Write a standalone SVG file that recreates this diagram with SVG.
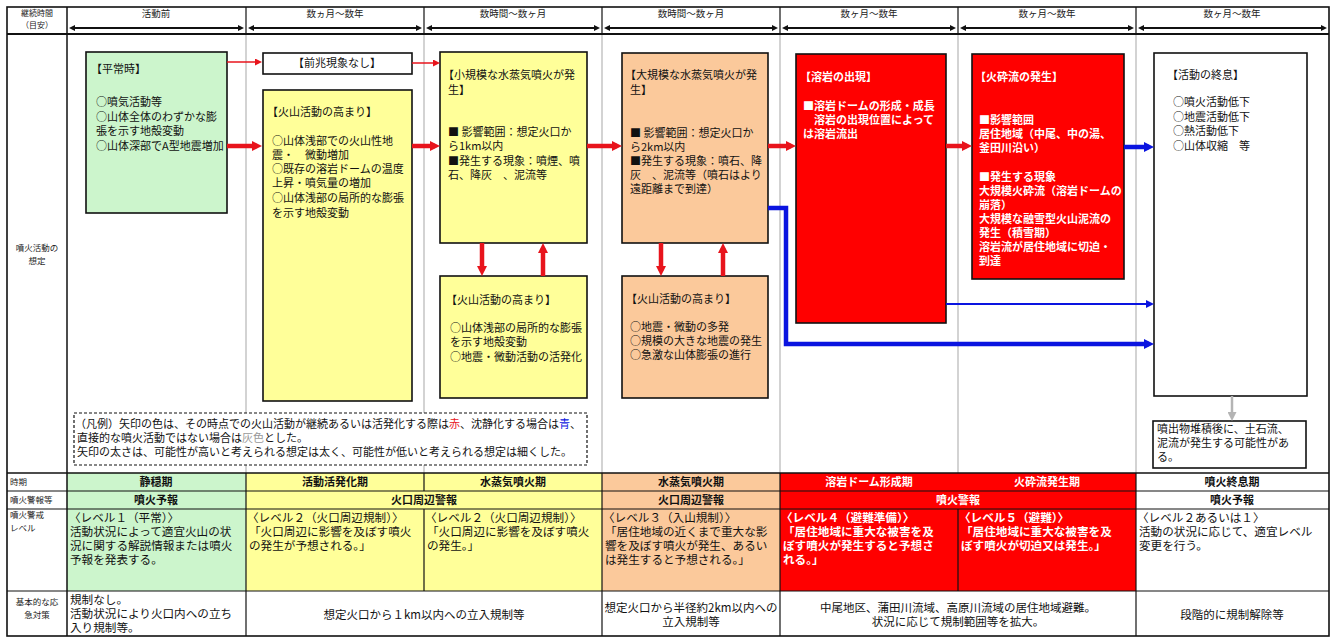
<svg xmlns="http://www.w3.org/2000/svg" width="1336" height="640" viewBox="0 0 1336 640">
<style>
text{font-family:"Noto Sans CJK JP","Noto Sans CJK SC",sans-serif;fill:#111;font-size:11px}
.w{fill:#fff;font-weight:bold}
.b{font-weight:bold}
.lbl{font-size:8.5px;fill:#222}
.hd{font-size:9.5px;fill:#222}
.c{text-anchor:middle}
.lv{font-size:11.6px}
.box{stroke:#111;stroke-width:1.6}
.grn{fill:#ccf5cc}.yel{fill:#ffff99}.pch{fill:#fbc99b}.red{fill:#ff0000}.wht{fill:#fff}
.gl{stroke:#c4c4c4;stroke-width:1.5}
.bl{stroke:#111;stroke-width:1.2}
</style>
<defs>
<marker id="mRt" markerUnits="userSpaceOnUse" markerWidth="10" markerHeight="10" refX="5" refY="5" orient="auto"><path d="M0,0L10,5L0,10z" fill="#e8141c"/></marker>
<marker id="mRn" markerUnits="userSpaceOnUse" markerWidth="7" markerHeight="7" refX="5" refY="3.5" orient="auto"><path d="M0,0L7,3.5L0,7z" fill="#e8141c"/></marker>
<marker id="mBt" markerUnits="userSpaceOnUse" markerWidth="10" markerHeight="10" refX="5" refY="5" orient="auto"><path d="M0,0L10,5L0,10z" fill="#0a14e0"/></marker>
<marker id="mBn" markerUnits="userSpaceOnUse" markerWidth="8" markerHeight="8" refX="5" refY="4" orient="auto"><path d="M0,0L8,4L0,8z" fill="#0a14e0"/></marker>
<marker id="mG" markerUnits="userSpaceOnUse" markerWidth="9" markerHeight="9" refX="5" refY="4.5" orient="auto"><path d="M0,0L9,4.5L0,9z" fill="#b4b4b4"/></marker>
<marker id="mK" markerUnits="userSpaceOnUse" markerWidth="6" markerHeight="6" refX="4" refY="3" orient="auto-start-reverse"><path d="M0,0L6,3L0,6z" fill="#111"/></marker>
</defs>
<rect x="0" y="0" width="1336" height="640" fill="#fff"/>

<g id="table">
<rect x="67" y="473" width="179" height="118" class="grn"/>
<rect x="246" y="473" width="356" height="118" class="yel"/>
<rect x="602" y="473" width="178" height="118" class="pch"/>
<rect x="780" y="473" width="356" height="118" class="red"/>
<g class="gl">
<line x1="246" y1="34" x2="246" y2="473"/><line x1="424" y1="34" x2="424" y2="473"/>
<line x1="602" y1="34" x2="602" y2="473"/><line x1="780" y1="34" x2="780" y2="473"/>
<line x1="958" y1="34" x2="958" y2="473"/><line x1="1136" y1="34" x2="1136" y2="473"/>
</g>
<g class="bl">
<line x1="246" y1="7" x2="246" y2="34"/><line x1="424" y1="7" x2="424" y2="34"/>
<line x1="602" y1="7" x2="602" y2="34"/><line x1="780" y1="7" x2="780" y2="34"/>
<line x1="958" y1="7" x2="958" y2="34"/><line x1="1136" y1="7" x2="1136" y2="34"/>
<line x1="7" y1="491" x2="1329" y2="491"/><line x1="7" y1="509" x2="1329" y2="509"/>
<line x1="7" y1="591" x2="1329" y2="591"/>
<line x1="246" y1="473" x2="246" y2="636"/>
<line x1="424" y1="473" x2="424" y2="491"/><line x1="424" y1="509" x2="424" y2="591"/>
<line x1="602" y1="473" x2="602" y2="636"/><line x1="780" y1="473" x2="780" y2="636"/>
<line x1="958" y1="509" x2="958" y2="591"/>
<line x1="1136" y1="473" x2="1136" y2="636"/>
</g>
<line x1="7" y1="34" x2="1329" y2="34" stroke="#111" stroke-width="2.2"/>
<line x1="7" y1="473" x2="1329" y2="473" stroke="#111" stroke-width="1.6"/>
<line x1="67" y1="7" x2="67" y2="636" stroke="#111" stroke-width="1.5"/>
<rect x="7" y="7" width="1322" height="629" fill="none" stroke="#111" stroke-width="1.6"/>

<text class="lbl c" style="font-size:8px" x="37" y="16">継続時間</text>
<text class="lbl c" style="font-size:8px" x="37" y="28">（目安）</text>
<text class="hd c" x="156" y="17">活動前</text>
<text class="hd c" x="335" y="17">数ヵ月～数年</text>
<text class="hd c" x="513" y="17">数時間～数ヶ月</text>
<text class="hd c" x="691" y="17">数時間～数ヶ月</text>
<text class="hd c" x="869" y="17">数ヶ月～数年</text>
<text class="hd c" x="1047" y="17">数ヶ月～数年</text>
<text class="hd c" x="1232" y="17">数ヶ月～数年</text>
<g stroke="#111" stroke-width="1.8" marker-start="url(#mK)" marker-end="url(#mK)">
<line x1="71" y1="28" x2="242" y2="28"/><line x1="250" y1="28" x2="420" y2="28"/>
<line x1="428" y1="28" x2="598" y2="28"/><line x1="606" y1="28" x2="776" y2="28"/>
<line x1="784" y1="28" x2="954" y2="28"/><line x1="962" y1="28" x2="1132" y2="28"/>
<line x1="1140" y1="28" x2="1325" y2="28"/>
</g>
<text class="lbl c" x="37" y="251">噴火活動の</text>
<text class="lbl c" x="37" y="264">想定</text>

<text class="lbl" x="10" y="485">時期</text>
<text class="lbl" x="10" y="503">噴火警報等</text>
<text class="lbl" x="10" y="518">噴火警戒</text>
<text class="lbl" x="10" y="531">レベル</text>
<text class="lbl c" x="37" y="605">基本的な応</text>
<text class="lbl c" x="37" y="618">急対策</text>

<text class="b c" x="156" y="486">静穏期</text>
<text class="b c" x="335" y="486">活動活発化期</text>
<text class="b c" x="513" y="486">水蒸気噴火期</text>
<text class="b c" x="691" y="486">水蒸気噴火期</text>
<text class="w c" x="869" y="486">溶岩ドーム形成期</text>
<text class="w c" x="1047" y="486">火砕流発生期</text>
<text class="b c" x="1232" y="486">噴火終息期</text>
<text class="b c" x="156" y="504">噴火予報</text>
<text class="b c" x="424" y="504">火口周辺警報</text>
<text class="b c" x="691" y="504">火口周辺警報</text>
<text class="w c" x="958" y="504">噴火警報</text>
<text class="b c" x="1232" y="504">噴火予報</text>
<text class="lv" x="69" y="522">〈レベル１（平常）〉</text>
<text class="lv" x="70" y="536">活動状況によって適宜火山の状</text>
<text class="lv" x="70" y="550">況に関する解説情報または噴火</text>
<text class="lv" x="70" y="564">予報を発表する。</text>
<text class="lv" x="247" y="522">〈レベル２（火口周辺規制）〉</text>
<text class="lv" x="249" y="536">「火口周辺に影響を及ぼす噴火</text>
<text class="lv" x="249" y="550">の発生が予想される。」</text>
<text class="lv" x="425" y="522">〈レベル２（火口周辺規制）〉</text>
<text class="lv" x="427" y="536">「火口周辺に影響を及ぼす噴火</text>
<text class="lv" x="427" y="550">の発生。」</text>
<text class="lv" x="603" y="522">〈レベル３（入山規制）〉</text>
<text class="lv" x="605" y="536">「居住地域の近くまで重大な影</text>
<text class="lv" x="605" y="550">響を及ぼす噴火が発生、あるい</text>
<text class="lv" x="605" y="564">は発生すると予想される。」</text>
<text class="lv w" x="781" y="522">〈レベル４（避難準備）〉</text>
<text class="lv w" x="783" y="536">「居住地域に重大な被害を及</text>
<text class="lv w" x="783" y="550">ぼす噴火が発生すると予想さ</text>
<text class="lv w" x="783" y="564">れる。」</text>
<text class="lv w" x="959" y="522">〈レベル５（避難）〉</text>
<text class="lv w" x="961" y="536">「居住地域に重大な被害を及</text>
<text class="lv w" x="961" y="550">ぼす噴火が切迫又は発生。」</text>
<text class="lv" x="1137" y="522">〈レベル２あるいは１〉</text>
<text class="lv" x="1139" y="536">活動の状況に応じて、適宜レベル</text>
<text class="lv" x="1139" y="550">変更を行う。</text>
<text class="lv" x="70" y="604">規制なし。</text>
<text class="lv" x="70" y="618">活動状況により火口内への立ち</text>
<text class="lv" x="70" y="632">入り規制等。</text>
<text class="c" style="font-size:11.5px" x="424" y="619">想定火口から１km以内への立入規制等</text>
<text class="c" style="font-size:11.5px" x="691" y="612">想定火口から半径約2km以内への</text>
<text class="c" style="font-size:11.5px" x="691" y="626">立入規制等</text>
<text class="c" style="font-size:11.5px" x="958" y="612">中尾地区、蒲田川流域、高原川流域の居住地域避難。</text>
<text class="c" style="font-size:11.5px" x="958" y="626">状況に応じて規制範囲等を拡大。</text>
<text class="c" style="font-size:11.5px" x="1232" y="619">段階的に規制解除等</text>
</g>

<g id="n-heijou">
<rect x="86" y="52" width="141" height="161" class="box grn"/>
<text x="91" y="73">【平常時】</text>
<text x="96" y="106">○噴気活動等</text>
<text x="96" y="121">○山体全体のわずかな膨</text>
<text x="96" y="135">張を示す地殻変動</text>
<text x="96" y="150">○山体深部でA型地震増加</text>
</g>
<g id="n-zenchou">
<rect x="263" y="53" width="149" height="21" class="box wht"/>
<text class="c" x="337" y="67">【前兆現象なし】</text>
</g>
<g id="n-takamari1">
<rect x="263" y="90" width="149" height="311" class="box yel"/>
<text x="267" y="116">【火山活動の高まり】</text>
<text x="272" y="145">○山体浅部での火山性地</text>
<text x="272" y="159">震・　微動増加</text>
<text x="272" y="173">○既存の溶岩ドームの温度</text>
<text x="272" y="187">上昇・噴気量の増加</text>
<text x="272" y="202">○山体浅部の局所的な膨張</text>
<text x="272" y="217">を示す地殻変動</text>
</g>
<g id="n-shoukibo">
<rect x="440" y="52" width="147" height="191" class="box yel"/>
<text x="443" y="79">【小規模な水蒸気噴火が発</text>
<text x="448" y="94">生】</text>
<text x="448" y="136">■ 影響範囲：想定火口か</text>
<text x="448" y="150">ら1km以内</text>
<text x="448" y="165">■発生する現象：噴煙、噴</text>
<text x="448" y="179">石、降灰　、泥流等</text>
</g>
<g id="n-takamari2">
<rect x="440" y="276" width="147" height="122" class="box yel"/>
<text x="446" y="304">【火山活動の高まり】</text>
<text x="450" y="332">○山体浅部の局所的な膨張</text>
<text x="450" y="346">を示す地殻変動</text>
<text x="450" y="361">○地震・微動活動の活発化</text>
</g>
<g id="n-daikibo">
<rect x="622" y="53" width="146" height="190" class="box pch"/>
<text x="625" y="79">【大規模な水蒸気噴火が発</text>
<text x="630" y="94">生】</text>
<text x="630" y="137">■ 影響範囲：想定火口か</text>
<text x="630" y="151">ら2km以内</text>
<text x="630" y="165">■発生する現象：噴石、降</text>
<text x="630" y="179">灰　、泥流等（噴石はより</text>
<text x="630" y="193">遠距離まで到達）</text>
</g>
<g id="n-takamari3">
<rect x="622" y="276" width="146" height="122" class="box pch"/>
<text x="626" y="303">【火山活動の高まり】</text>
<text x="630" y="331">○地震・微動の多発</text>
<text x="630" y="345">○規模の大きな地震の発生</text>
<text x="630" y="359">○急激な山体膨張の進行</text>
</g>
<g id="n-yougan">
<rect x="796" y="54" width="150" height="269" class="box red"/>
<text class="w" x="800" y="81">【溶岩の出現】</text>
<text class="w" x="803" y="110">■溶岩ドームの形成・成長</text>
<text class="w" x="803" y="124">　溶岩の出現位置によって</text>
<text class="w" x="803" y="138">は溶岩流出</text>
</g>
<g id="n-kasairyu">
<rect x="972" y="54" width="152" height="225" class="box red"/>
<text class="w" x="975" y="81">【火砕流の発生】</text>
<g style="font-size:10.5px">
<text class="w" x="979" y="124">■影響範囲</text>
<text class="w" x="979" y="138">居住地域（中尾、中の湯、</text>
<text class="w" x="979" y="152">釜田川沿い）</text>
<text class="w" x="979" y="181">■発生する現象</text>
<text class="w" x="979" y="195">大規模火砕流（溶岩ドームの</text>
<text class="w" x="979" y="209">崩落）</text>
<text class="w" x="979" y="223">大規模な融雪型火山泥流の</text>
<text class="w" x="979" y="237">発生（積雪期）</text>
<text class="w" x="979" y="251">溶岩流が居住地域に切迫・</text>
<text class="w" x="979" y="265">到達</text>
</g>
</g>
<g id="n-shuusoku">
<rect x="1154" y="53" width="153" height="343" class="box wht"/>
<text x="1167" y="79">【活動の終息】</text>
<text x="1173" y="106">○噴火活動低下</text>
<text x="1173" y="121">○地震活動低下</text>
<text x="1173" y="135">○熱活動低下</text>
<text x="1173" y="150">○山体収縮　等</text>
</g>
<g id="n-doseki">
<rect x="1153" y="421" width="153" height="47" class="box wht"/>
<text x="1157" y="433">噴出物堆積後に、土石流、</text>
<text x="1157" y="447">泥流が発生する可能性があ</text>
<text x="1157" y="461">る。</text>
</g>
<g id="legend">
<rect x="74" y="413" width="513" height="52" fill="#fff" stroke="#111" stroke-width="1.2" stroke-dasharray="3,2"/>
<text x="75" y="428">（凡例）矢印の色は、その時点での火山活動が継続あるいは活発化する際は<tspan fill="#e8141c">赤</tspan>、沈静化する場合は<tspan fill="#0a14e0">青</tspan>、</text>
<text x="77" y="442">直接的な噴火活動ではない場合は<tspan fill="#999">灰色</tspan>とした。</text>
<text x="77" y="456">矢印の太さは、可能性が高いと考えられる想定は太く、可能性が低いと考えられる想定は細くした。</text>
</g>

<g id="connectors" fill="none">
<g stroke="#e8141c" stroke-width="1.5" marker-end="url(#mRn)">
<line x1="227" y1="62" x2="260" y2="62"/>
<line x1="412" y1="63" x2="438" y2="63"/>
</g>
<g stroke="#e8141c" stroke-width="4.5" marker-end="url(#mRt)">
<line x1="227" y1="146" x2="257" y2="146"/>
<line x1="412" y1="146" x2="435" y2="146"/>
<line x1="587" y1="146" x2="617" y2="146"/>
<line x1="768" y1="146" x2="791" y2="146"/>
<line x1="946" y1="146" x2="967" y2="146"/>
<line x1="482" y1="243" x2="482" y2="271"/>
<line x1="543" y1="276" x2="543" y2="248"/>
<line x1="661" y1="243" x2="661" y2="271"/>
<line x1="723" y1="276" x2="723" y2="248"/>
</g>
<g stroke="#0a14e0" stroke-width="4.5" marker-end="url(#mBt)">
<path d="M1124,147H1149"/>
<path d="M768,208H786V344H1149"/>
</g>
<path d="M946,304H1151" stroke="#0a14e0" stroke-width="2" marker-end="url(#mBn)"/>
<path d="M1232,396V417" stroke="#b4b4b4" stroke-width="2.5" marker-end="url(#mG)"/>
</g>
</svg>
